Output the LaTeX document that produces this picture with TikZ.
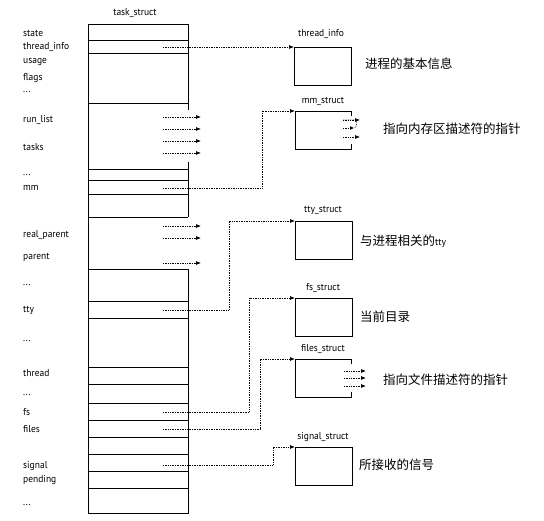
\documentclass[tikz,border=0pt]{standalone}
\usepackage{fontspec}
\setmainfont{PT Sans}[FakeStretch=0.95]
\newfontfamily\cjk{Noto Sans CJK SC}
\usetikzlibrary{arrows.meta}
\tikzset{
  col/.style={line width=0.8pt},
  lbl/.style={anchor=west, inner sep=0pt, font=\fontsize{10}{11}\selectfont},
  ttl/.style={inner sep=0pt, font=\fontsize{10}{11}\selectfont},
  desc/.style={anchor=west, inner sep=0pt, font=\cjk\fontsize{12.5}{13}\selectfont},
  sbox/.style={draw, line width=0.8pt, minimum width=57pt, minimum height=38pt, anchor=north west, inner sep=0pt},
  obox/.style={minimum width=56pt, minimum height=38pt, anchor=north west, inner sep=0pt},
  conn/.style={densely dotted, line width=0.7pt, -{Latex[length=5pt,width=4pt]}},
  stub/.style={densely dotted, line width=0.7pt, -{Latex[length=5pt,width=4pt]}},
}
\begin{document}
\begin{tikzpicture}[x=1pt,y=-1pt]
\useasboundingbox (0,0) rectangle (544,521);
% ---- task_struct column ----
\node[ttl] (tst) at (135,13) {task\_struct};
\draw[col] (88,24) -- (88,513) -- (188,513) -- (188,269);
\draw[col] (188,217) -- (188,169);
\draw[col] (188,162) -- (188,169);
\draw[col] (188,24) -- (188,110);
\draw[col] (188,217) -- (188,212);
\foreach \yy in {24,40,53,103,169,180,194,217,269,301,318,367,384,403,420,437,454,471,488}
  \draw[col] (88,\yy) -- (188,\yy);
% ---- left labels ----
\node[lbl] (l1) at (23,33) {state};
\node[lbl] (l2) at (23,47) {thread\_info};
\node[lbl] (l3) at (23,62) {usage};
\node[lbl] (l4) at (23,78) {flags};
\node[lbl] (l5) at (23,92) {...};
\node[lbl] (l6) at (23,120) {run\_list};
\node[lbl] (l7) at (23,147) {tasks};
\node[lbl] (l8) at (23,175) {...};
\node[lbl] (l9) at (23,188) {mm};
\node[lbl] (l10) at (23,235) {real\_parent};
\node[lbl] (l11) at (23,257) {parent};
\node[lbl] (l12) at (23,285) {...};
\node[lbl] (l13) at (23,310) {tty};
\node[lbl] (l14) at (23,341) {...};
\node[lbl] (l15) at (23,373) {thread};
\node[lbl] (l16) at (23,395) {...};
\node[lbl] (l17) at (23,412) {fs};
\node[lbl] (l18) at (23,429) {files};
\node[lbl] (l19) at (23,466) {signal};
\node[lbl] (l20) at (23,480) {pending};
\node[lbl] (l21) at (23,505) {...};
% ---- stub arrows in column ----
\foreach \yy in {117,129,141,153,226,238,263}
  \draw[stub] (163,\yy) -- (201,\yy);
% ---- right boxes ----
\node[sbox] (ti) at (294,47) {};
\node[ttl] (tit) at (321,34) {thread\_info};
\node[desc] (tid) at (365,64) {进程的基本信息};

\node[obox] (mm) at (295,111) {};
\draw[col] (mm.north east) ++(0,5) -- (mm.north east) -- (mm.north west) -- (mm.south west) -- (mm.south east) -- ++(0,-5);
\node[ttl] (mmt) at (323,101) {mm\_struct};
\node[desc] (mmd) at (383,129) {指向内存区描述符的指针};
\draw[densely dotted, line width=0.7pt] (343,120) -- (355,120) to[out=0,in=0] (354,128);
\draw[densely dotted, line width=0.7pt, {Latex[length=4pt,width=4pt]}-] (354,128) -- (343,128);
\draw[stub] (343,120) -- (360,120);
\draw[stub] (343,137) -- (360,137);

\node[sbox] (tty) at (295,221) {};
\node[ttl] (ttyt) at (323,210) {tty\_struct};
\node[desc] (ttyd) at (360,241) {与进程相关的\fontsize{10}{11}\fontspec{PT Sans}[FakeStretch=0.95]tty};

\node[sbox] (fs) at (295,298) {};
\node[ttl] (fst) at (323,288) {fs\_struct};
\node[desc] (fsd) at (360,317) {当前目录};

\node[obox] (fi) at (295,359) {};
\draw[col] (fi.north east) ++(0,5) -- (fi.north east) -- (fi.north west) -- (fi.south west) -- (fi.south east) -- ++(0,-5);
\node[ttl] (fit) at (323,349) {files\_struct};
\node[desc] (fid) at (383,380) {指向文件描述符的指针};
\foreach \yy in {371,378,386}
  \draw[stub] (344,\yy) -- (366,\yy);

\node[sbox] (sg) at (295,447) {};
\node[ttl] (sgt) at (323,437) {signal\_struct};
\node[desc] (sgd) at (359,465) {所接收的信号};

% ---- connectors ----
\coordinate (cti) at (163,47);
\coordinate (cmm) at (163,188);
\coordinate (ctty) at (163,310);
\coordinate (cfs) at (163,412);
\coordinate (cfi) at (163,429);
\coordinate (csg) at (163,465);
\draw[conn] (cti) -- (ti.north west);
\draw[conn] (cmm) -| (262,111) -- (mm.north west);
\draw[conn] (ctty) -| (229,221) -- (tty.north west);
\draw[conn] (cfs) -| (249,298) -- (fs.north west);
\draw[conn] (cfi) -| (260,359) -- (fi.north west);
\draw[conn] (csg) -| (273,447) -- (sg.north west);
\end{tikzpicture}
\end{document}
